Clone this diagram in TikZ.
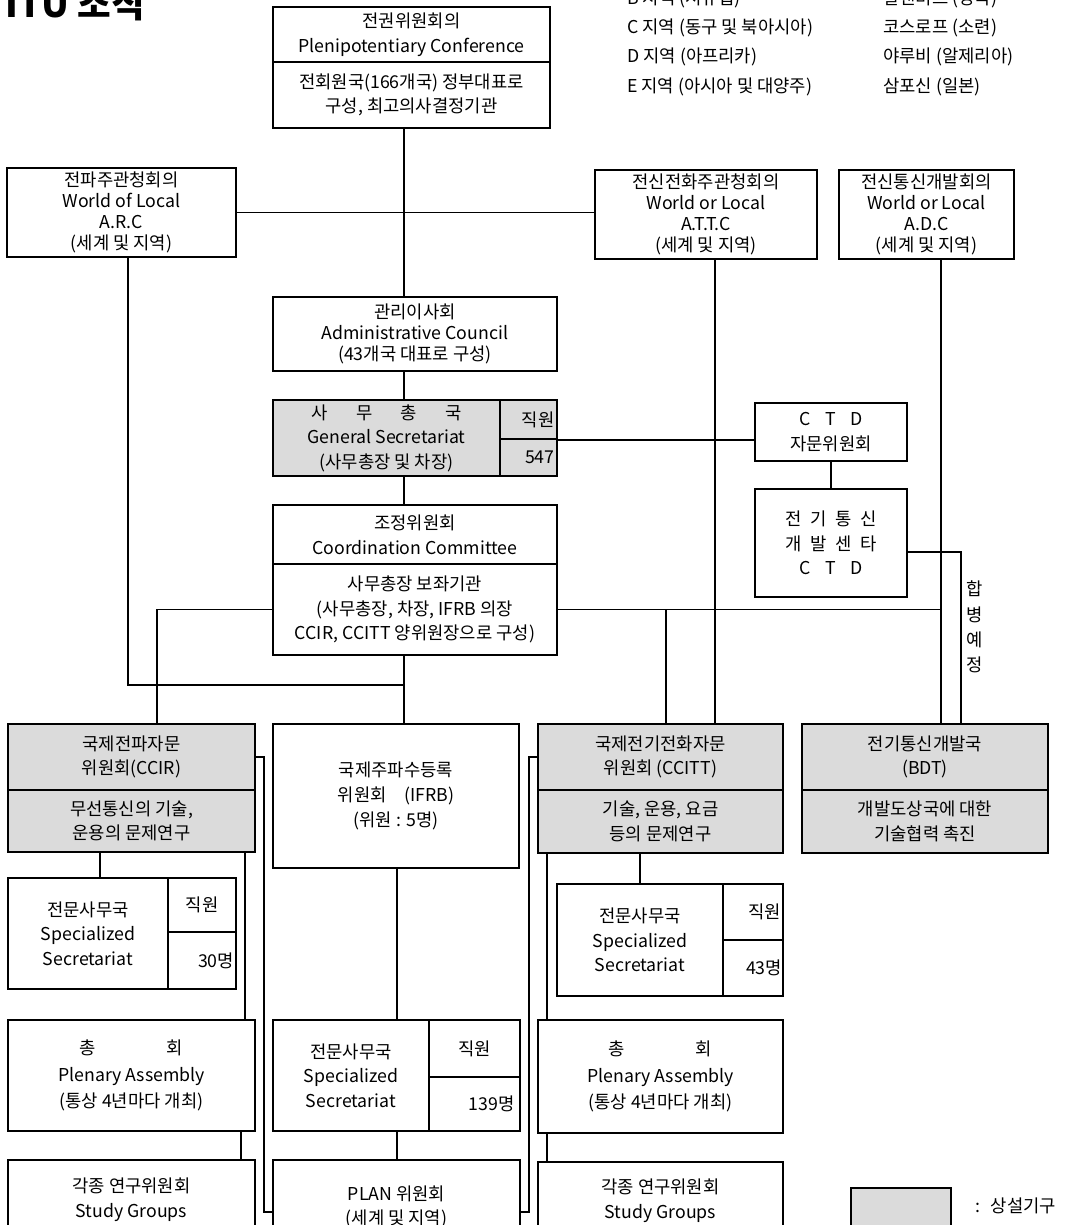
\documentclass[tikz,border=0pt]{standalone}
\usepackage{fontspec}
\setmainfont{Noto Sans CJK KR}

\tikzset{
  box/.style={draw, line width=1.3pt, inner sep=0pt, align=center,
    font=\fontsize{12.6}{17.5}\selectfont},
  cell/.style n args={4}{at={({(#1+#3)/2},{(#2+#4)/2})},
    minimum width={(#3-#1)*0.025cm}, minimum height={(#4-#2)*0.025cm}},
  tight/.style={font=\fontsize{12.6}{15}\selectfont},
  airy/.style={font=\fontsize{12.6}{19}\selectfont},
  perm/.style={box, fill=black!14},
  wire/.style={line width=0.9pt},
  lbl/.style={inner sep=0pt, font=\fontsize{12.6}{17.5}\selectfont},
}

\begin{document}
\begin{tikzpicture}[x=0.025cm, y=-0.025cm]
  \useasboundingbox (0,0) rectangle (1067,1225);
  \clip (0,0) rectangle (1067,1225);

  % title and IFRB members by region
  \node[lbl, anchor=base west, font=\fontsize{26}{30}\selectfont\bfseries] (title) at (5,17) {ITU 조직};
  \foreach \y/\reg/\who/\k in {-1/B 지역 (서유럽)/알랜비드 (영국)/b,
      28/C 지역 (동구 및 북아시아)/코스로프 (소련)/c,
      57/D 지역 (아프리카)/야루비 (알제리아)/d,
      87/E 지역 (아시아 및 대양주)/삼포신 (일본)/e} {
    \node[lbl, anchor=west] (reg-\k) at (627,\y) {\reg};
    \node[lbl, anchor=west] (who-\k) at (883,\y) {\who};
  }

  % plenipotentiary conference
  \node[box, cell={273}{7}{550}{62}] (pc) {전권위원회의\\Plenipotentiary Conference};
  \node[box, cell={273}{62}{550}{128}] (pcb) {전회원국(166개국) 정부대표로\\구성, 최고의사결정기관};

  % world / local conferences
  \node[box, tight, cell={7}{168}{236}{257}] (arc) {전파주관청회의\\World of Local\\A.R.C\\(세계 및 지역)};
  \node[box, tight, cell={595}{170}{817}{259}] (attc) {전신전화주관청회의\\World or Local\\A.T.T.C\\(세계 및 지역)};
  \node[box, tight, cell={839}{170}{1014}{259}] (adc) {전신통신개발회의\\World or Local\\A.D.C\\(세계 및 지역)};

  % council and secretariat
  \node[box, tight, cell={273}{297}{557}{371}] (ac) {관리이사회\\Administrative Council\\(43개국 대표로 구성)};
  \node[perm, cell={273}{400}{500}{476}] (gs) {사\hspace{1.6em}무\hspace{1.6em}총\hspace{1.6em}국\\General Secretariat\\(사무총장 및 차장)};
  \node[perm, cell={500}{400}{557}{439}, text width=1.3cm, align=right] (gsa) {직원};
  \node[perm, cell={500}{439}{557}{476}, text width=1.3cm, align=right] (gsb) {547};

  % CTD
  \node[box, cell={755}{403}{907}{461}] (ctda) {C\hspace{.8em}T\hspace{.8em}D\\자문위원회};
  \node[box, cell={755}{489}{907}{597}] (ctd) {전\hspace{.5em}기\hspace{.5em}통\hspace{.5em}신\\개\hspace{.5em}발\hspace{.5em}센\hspace{.5em}타\\C\hspace{.8em}T\hspace{.8em}D};
  \node[lbl, align=center, font=\fontsize{12.6}{18}\selectfont] (merge) at (975,627) {합\\병\\예\\정};

  % coordination committee
  \node[box, cell={273}{505}{557}{564}] (cc) {조정위원회\\Coordination Committee};
  \node[box, cell={273}{564}{557}{655}] (ccb) {사무총장 보좌기관\\(사무총장, 차장, IFRB 의장\\CCIR, CCITT 양위원장으로 구성)};

  % permanent organs
  \node[perm, cell={8}{724}{255}{790}] (ccir) {국제전파자문\\위원회(CCIR)};
  \node[perm, cell={8}{790}{255}{852}] (ccirb) {무선통신의 기술,\\운용의 문제연구};
  \node[box, cell={273}{724}{519}{868}] (ifrb) {국제주파수등록\\위원회\quad(IFRB)\\(위원 : 5명)};
  \node[perm, cell={538}{724}{783}{790}] (ccitt) {국제전기전화자문\\위원회 (CCITT)};
  \node[perm, cell={538}{790}{783}{853}] (ccittb) {기술, 운용, 요금\\등의 문제연구};
  \node[perm, cell={802}{724}{1048}{790}] (bdt) {전기통신개발국\\(BDT)};
  \node[perm, cell={802}{790}{1048}{853}] (bdtb) {개발도상국에 대한\\기술협력 촉진};

  % specialized secretariats
  \node[box, cell={8}{878}{168}{989}] (ssa) {전문사무국\\Specialized\\Secretariat};
  \node[box, cell={168}{878}{236}{932}] (ssastaff) {직원};
  \node[box, cell={168}{932}{236}{989}, text width=1.6cm, align=right] (ssanum) {30명};
  \node[box, cell={557}{884}{723}{996}] (ssb) {전문사무국\\Specialized\\Secretariat};
  \node[box, cell={723}{884}{783}{940}, text width=1.4cm, align=right] (ssbstaff) {직원};
  \node[box, cell={723}{940}{783}{996}, text width=1.45cm, align=right] (ssbnum) {43명};
  \node[box, cell={273}{1020}{429}{1131}] (ssc) {전문사무국\\Specialized\\Secretariat};
  \node[box, cell={429}{1020}{520}{1077}] (sscstaff) {직원};
  \node[box, cell={429}{1077}{520}{1131}, text width=2cm, align=right] (sscnum) {139명};

  % assemblies and study groups
  \node[box, airy, cell={8}{1020}{255}{1131}] (paa) {총\hspace{4em}회\\Plenary Assembly\\(통상 4년마다 개최)};
  \node[box, airy, cell={538}{1020}{783}{1133}] (pab) {총\hspace{4em}회\\Plenary Assembly\\(통상 4년마다 개최)};
  \node[box, cell={8}{1160}{255}{1240}] (sga) {각종 연구위원회\\Study Groups};
  \node[box, cell={273}{1160}{520}{1254}] (plan) {PLAN 위원회\\(세계 및 지역)};
  \node[box, cell={538}{1162}{783}{1240}] (sgb) {각종 연구위원회\\Study Groups};

  % legend
  \node[perm, cell={851}{1188}{951}{1240}] (legend) {};
  \node[lbl, anchor=west] (legendtext) at (975,1206) {:\hspace{.6em}상설기구};

  % connectors
  \coordinate (spine) at (404,0);
  \coordinate (xattc) at (715,0);
  \coordinate (xadc) at (941,0);
  \coordinate (xcc) at (666,0);
  \coordinate (xcl) at (157,0);
  \coordinate (xssa) at (100,0);
  \coordinate (xpaa) at (245,0);
  \coordinate (xsga) at (241,0);
  \coordinate (xifrb) at (397,0);
  \coordinate (xssb) at (640,0);
  \coordinate (xpab) at (547,0);
  \coordinate (bend) at (128,685);
  \coordinate (ctdr) at (961,552);
  \coordinate (planl) at (264,1212);
  \coordinate (planr) at (529,1212);

  \draw[wire] (pcb.south -| spine) -- (ac.north -| spine);
  \draw[wire] (arc.east) -- (arc.east -| attc.west);
  \draw[wire] (ac.south -| spine) -- (gs.north -| spine);
  \draw[wire] (gs.south -| spine) -- (cc.north -| spine);
  \draw[wire] (ccb.south -| spine) -- (ifrb.north -| spine);
  \draw[wire] (arc.south -| bend) -- (bend) -- (bend -| spine);
  \draw[wire] (gsa.south east) -- (gsa.south east -| ctda.west);
  \draw[wire] (ctda.south) -- (ctd.north);
  \draw[wire] (ctd.east |- ctdr) -- (ctdr) -- (bdt.north -| ctdr);
  \draw[wire] (attc.south -| xattc) -- (ccitt.north -| xattc);
  \draw[wire] (adc.south -| xadc) -- (bdt.north -| xadc);
  \draw[wire] (ccb.east) -- (ccb.east -| xadc);
  \draw[wire] (ccb.east -| xcc) -- (ccitt.north -| xcc);
  \draw[wire] (ccb.west) -- (ccb.west -| xcl) -- (ccir.north -| xcl);
  \draw[wire] (ccirb.south -| xssa) -- (ssa.north -| xssa);
  \draw[wire] (ccirb.south -| xpaa) -- (paa.north -| xpaa);
  \draw[wire] (paa.south -| xsga) -- (sga.north -| xsga);
  \draw[wire] (ccir.east) -- (ccir.east -| planl) -- (planl) -- (planl -| plan.west);
  \draw[wire] (ccitt.west) -- (ccitt.west -| planr) -- (planr) -- (planr -| plan.east);
  \draw[wire] (ifrb.south -| xifrb) -- (ssc.north -| xifrb);
  \draw[wire] (ssc.south -| xifrb) -- (plan.north -| xifrb);
  \draw[wire] (ccittb.south -| xssb) -- (ssb.north -| xssb);
  \draw[wire] (ccittb.south -| xpab) -- (pab.north -| xpab);
  \draw[wire] (pab.south -| xpab) -- (sgb.north -| xpab);
\end{tikzpicture}
\end{document}
